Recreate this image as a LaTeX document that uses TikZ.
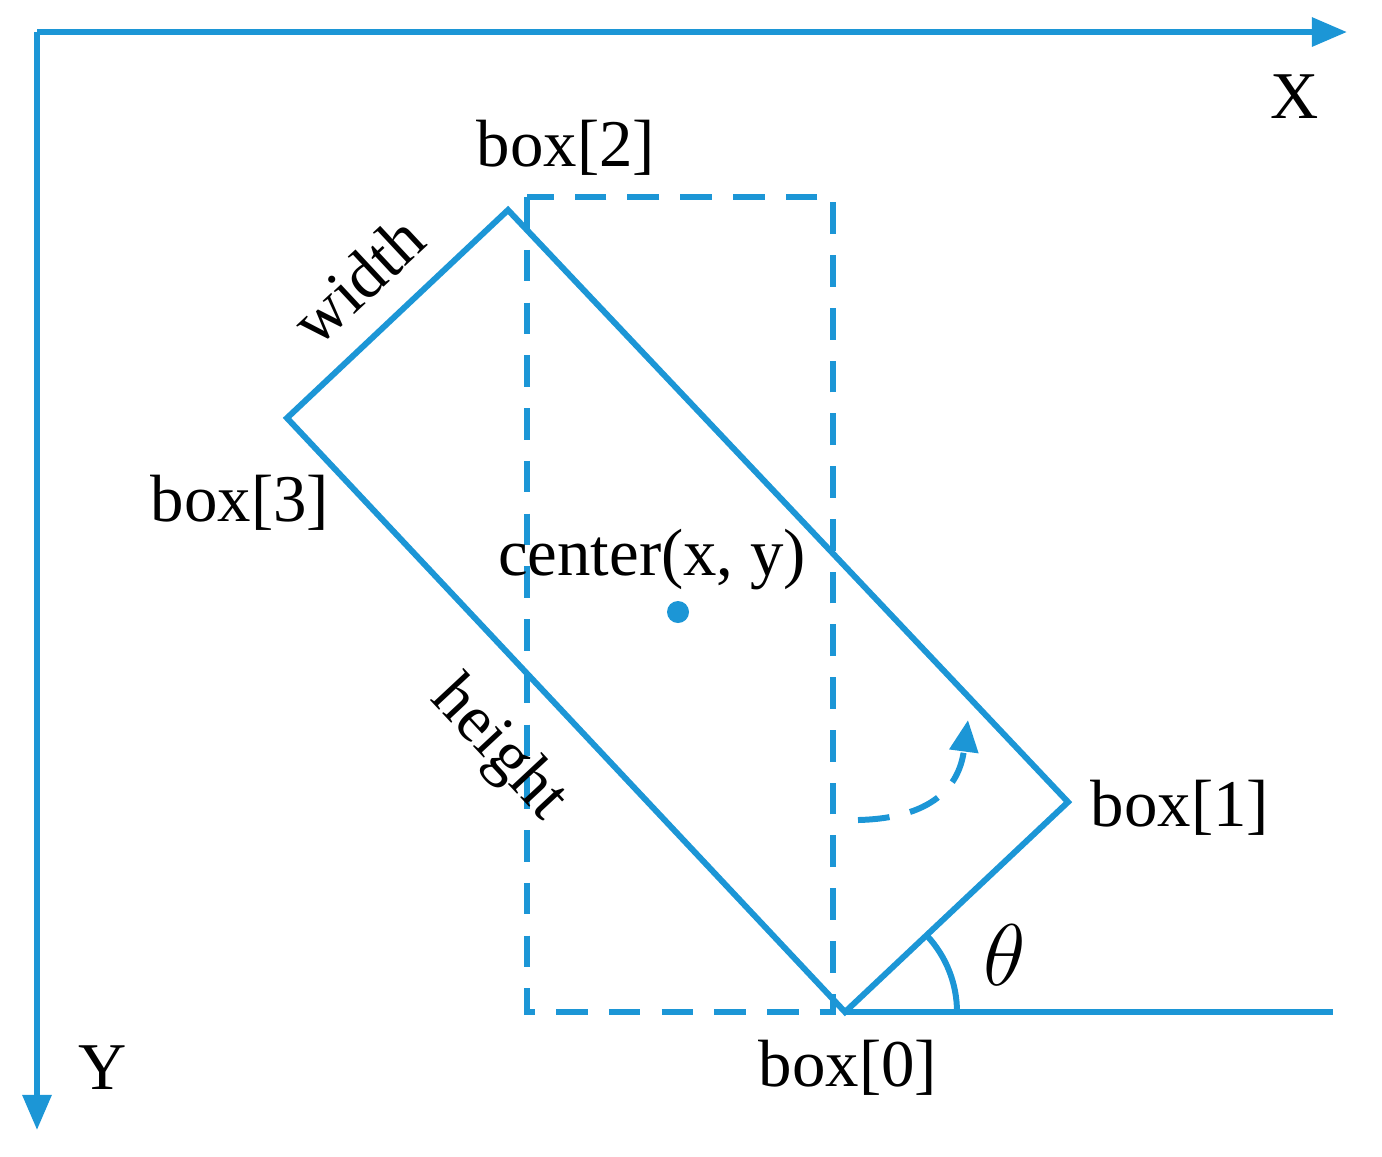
\documentclass[tikz,border=0pt]{standalone}
\usepackage{fontspec}
\setmainfont{Liberation Serif}
\usetikzlibrary{arrows.meta}
\definecolor{bl}{RGB}{28,150,214}
\begin{document}
\begin{tikzpicture}[x=0.01cm,y=-0.01cm,
  ln/.style={draw=bl,line width=1.7pt},
  dsh/.style={ln,dash pattern=on 9pt off 6pt},
  lbl/.style={font=\fontsize{19}{22}\selectfont,inner sep=0pt}]
\useasboundingbox (0,0) rectangle (1382,1156);
\coordinate (o) at (37,32);
\coordinate (xe) at (1347,32);
\coordinate (ye) at (37,1130);
\draw[ln,-{Triangle[length=10pt,width=8pt]}] (o) -- (xe);
\draw[ln,-{Triangle[length=10pt,width=8pt]}] (o) -- (ye);
\coordinate (b0) at (845,1012);
\coordinate (b1) at (1068,802);
\coordinate (b2) at (508,210);
\coordinate (b3) at (287,418);
\coordinate (he) at (1333,1012);
\coordinate (arcs) at (957,1012);
\draw[dsh] (527,197) rectangle (833,1012);
\draw[ln,line join=miter] (b0) -- (b1) -- (b2) -- (b3) -- cycle;
\draw[ln] (b0) -- (he);
\draw[ln] (arcs) arc[start angle=0,end angle=-43,radius=112];
\fill[bl] (678,612) circle[radius=11];
\coordinate (as) at (858,820);
\coordinate (ae) at (968,720);
\draw[dsh,-{Triangle[length=9pt,width=8pt]}] (as) .. controls (940,818) and (960,780) .. (ae);
\node[lbl] (X) at (1295,97) {X};
\node[lbl] (Y) at (103,1068) {Y};
\node[lbl] (l2) at (566,148) {box[2]};
\node[lbl] (l3) at (240,503) {box[3]};
\node[lbl] (l1) at (1180,808) {box[1]};
\node[lbl] (l0) at (848,1068) {box[0]};
\node[lbl] (c) at (652,560) {center(x, y)};
\node[lbl,font=\fontsize{26}{30}\selectfont] (t) at (1005,955) {$\theta$};
\node[lbl,rotate=43] (w) at (358,280) {width};
\node[lbl,rotate=-47] (h) at (498,750) {height};
\end{tikzpicture}
\end{document}
